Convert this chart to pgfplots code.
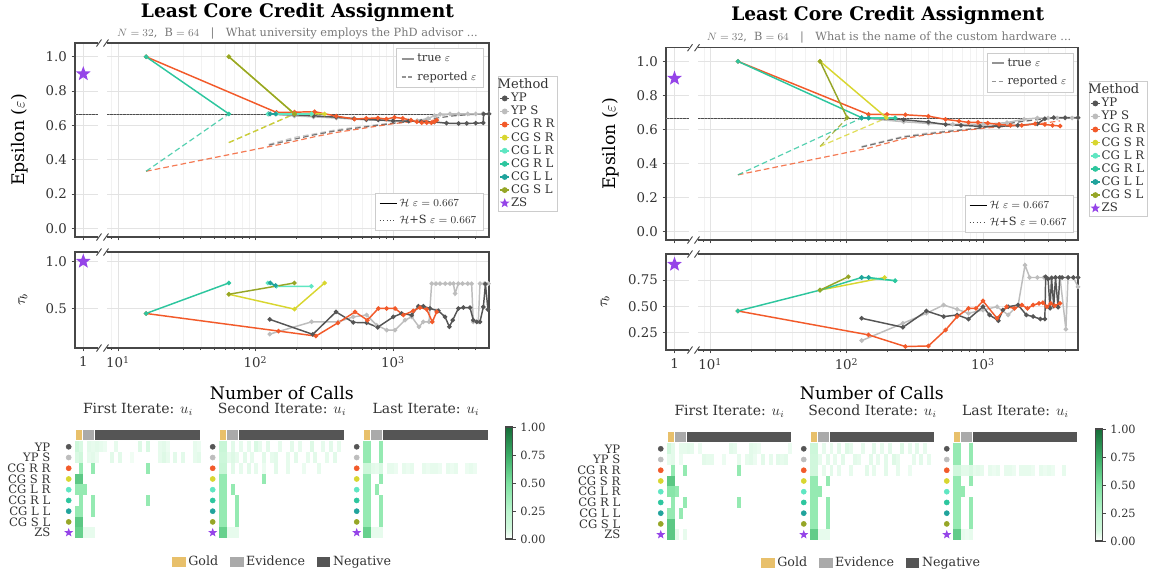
\documentclass[border=0pt]{standalone}
\usepackage{fontspec}
\setmainfont{DejaVu Serif}
\usepackage{pgfplots}
\pgfplotsset{compat=1.18}

\definecolor{cYP}{HTML}{555555}
\definecolor{cYPS}{HTML}{BDBDBD}
\definecolor{cRR}{HTML}{F25A2A}
\definecolor{cSR}{HTML}{D8D630}
\definecolor{cLR}{HTML}{5FE6C2}
\definecolor{cRL}{HTML}{2DC69E}
\definecolor{cLL}{HTML}{20A39C}
\definecolor{cSL}{HTML}{96A627}
\definecolor{cZS}{HTML}{9544E8}
\definecolor{frame}{HTML}{474747}
\definecolor{gridc}{HTML}{E3E3E3}
\definecolor{mgridc}{HTML}{F2F2F2}
\definecolor{tickc}{HTML}{333333}
\definecolor{legframe}{HTML}{CCCCCC}
\definecolor{cGold}{HTML}{E8C06B}
\definecolor{cEvid}{HTML}{AAAAAA}
\definecolor{cNeg}{HTML}{555555}
\definecolor{subc}{HTML}{777777}

\newcommand{\ticklabfont}{\fontsize{10}{12}\selectfont}

\pgfdeclareplotmark{fstar}{%
  \pgfpathmoveto{\pgfpointpolar{90}{\pgfplotmarksize}}%
  \pgfpathlineto{\pgfpointpolar{126}{0.42*\pgfplotmarksize}}%
  \pgfpathlineto{\pgfpointpolar{162}{\pgfplotmarksize}}%
  \pgfpathlineto{\pgfpointpolar{198}{0.42*\pgfplotmarksize}}%
  \pgfpathlineto{\pgfpointpolar{234}{\pgfplotmarksize}}%
  \pgfpathlineto{\pgfpointpolar{270}{0.42*\pgfplotmarksize}}%
  \pgfpathlineto{\pgfpointpolar{306}{\pgfplotmarksize}}%
  \pgfpathlineto{\pgfpointpolar{342}{0.42*\pgfplotmarksize}}%
  \pgfpathlineto{\pgfpointpolar{18}{\pgfplotmarksize}}%
  \pgfpathlineto{\pgfpointpolar{54}{0.42*\pgfplotmarksize}}%
  \pgfpathclose\pgfusepathqfill}
\pgfdeclareplotmark{cell}{\pgfpathrectanglecorners{\pgfqpoint{-1.49pt}{-4.05pt}}{\pgfqpoint{1.49pt}{4.05pt}}\pgfusepathqfill}

\pgfplotsset{
  colormap={hmap}{rgb255(0cm)=(255,255,255); rgb255(1cm)=(208,247,220); rgb255(2.5cm)=(186,245,206); rgb255(5cm)=(124,226,160); rgb255(7.5cm)=(58,172,102); rgb255(10cm)=(22,108,56)},
  bx/.style={scale only axis, anchor=south west,
    axis line style={draw=frame, line width=0.8pt},
    tick align=outside, tick style={draw=frame, line width=0.6pt},
    major tick length=2.6pt, minor tick length=1.6pt,
    ticklabel style={font=\ticklabfont, text=tickc},
    grid style={draw=gridc, line width=0.6pt},
    minor grid style={draw=mgridc, line width=0.4pt},
    xtick pos=left, ytick pos=left,
    /pgf/number format/assume math mode=true},
  smallax/.style={bx, xmin=0.5, xtick={1}, xmajorgrids, ymajorgrids},
  logax/.style={bx, xtick={10,100,1000},
    minor xtick={9,20,30,40,50,60,70,80,90,200,300,400,500,600,700,800,900,2000,3000,4000},
    xmajorgrids, xminorgrids, ymajorgrids, yticklabels={}, ytick style={draw=none}},
  sl/.style={line width=1.1pt, mark=*, mark size=1.1pt, mark options={solid}},
  dl/.style={line width=0.9pt, dash pattern=on 4.2pt off 2.4pt, opacity=0.8},
  hline/.style={black!70, line width=0.6pt},
  hdot/.style={black!45, dotted, line width=0.45pt},
  y1f/.style={yticklabel style={/pgf/number format/fixed, /pgf/number format/fixed zerofill, /pgf/number format/precision=1}},
  y2f/.style={yticklabel style={/pgf/number format/fixed, /pgf/number format/fixed zerofill, /pgf/number format/precision=2}},
  hmbase/.style={scale only axis, anchor=north west, xmin=0, xmax=32, ymin=-0.656, ymax=9.5, y dir=reverse,
    clip=false, colormap name=hmap, point meta min=0, point meta max=1,
    axis line style={draw=none}, xtick=\empty, ytick=\empty, height=81.75pt,
    title style={font=\fontsize{10.5}{12}\selectfont, text=tickc, at={(0.5,1)}, anchor=south, yshift=0.5pt}},
  hmsc/.style={scatter, only marks, mark=cell, point meta=explicit},
  rowlab/.style={ytick={1,2,3,4,5,6,7,8,9}, yticklabels={YP,YP S,CG R R,CG S R,CG L R,CG R L,CG L L,CG S L,ZS},
    major tick length=0pt, yticklabel style={font=\fontsize{8.7}{10}\selectfont, text=tickc, xshift=-15pt}},
  cbar/.style={colorbar, colorbar style={at={(parent axis.north east)}, anchor=north west, xshift=#1, yshift=1.5pt,
    width=5.25pt, height=84pt, scale only axis, ytick={0,0.25,0.5,0.75,1}, xtick=\empty,
    yticklabel style={font=\fontsize{8.5}{9}\selectfont, text=tickc, /pgf/number format/fixed, /pgf/number format/fixed zerofill, /pgf/number format/precision=2, /pgf/number format/assume math mode=true},
    axis line style={draw=frame, line width=0.8pt}, tick style={draw=frame, line width=0.5pt},
    major tick length=2.5pt, tick align=outside, ytick pos=right, yticklabel pos=right}},
  legov/.style={hide axis, scale only axis, width=1pt, height=1pt, xmin=0, xmax=1, ymin=0, ymax=1},
}

\newcommand{\strip}{%
  \addplot[fill=cGold, draw=white, line width=0.8pt] coordinates {(0,-0.656)(2,-0.656)(2,0.407)(0,0.407)(0,-0.656)};
  \addplot[fill=cEvid, draw=white, line width=0.8pt] coordinates {(2,-0.656)(5,-0.656)(5,0.407)(2,0.407)(2,-0.656)};
  \addplot[fill=cNeg, draw=white, line width=0.8pt] coordinates {(5,-0.656)(32,-0.656)(32,0.407)(5,0.407)(5,-0.656)};
}
\newcommand{\rowmarks}{%
  \addplot[only marks, mark=*, mark size=1.9pt, cYP] coordinates {(-1.6,1)};
  \addplot[only marks, mark=*, mark size=1.9pt, cYPS] coordinates {(-1.6,2)};
  \addplot[only marks, mark=*, mark size=1.9pt, cRR] coordinates {(-1.6,3)};
  \addplot[only marks, mark=*, mark size=1.9pt, cSR] coordinates {(-1.6,4)};
  \addplot[only marks, mark=*, mark size=1.9pt, cLR] coordinates {(-1.6,5)};
  \addplot[only marks, mark=*, mark size=1.9pt, cRL] coordinates {(-1.6,6)};
  \addplot[only marks, mark=*, mark size=1.9pt, cLL] coordinates {(-1.6,7)};
  \addplot[only marks, mark=*, mark size=1.9pt, cSL] coordinates {(-1.6,8)};
  \addplot[only marks, mark=fstar, mark size=3.5pt, cZS] coordinates {(-1.6,9)};
}
\newcommand{\methodlegend}{%
  \addlegendimage{empty legend}\addlegendentry{\hspace{-10pt}\fontsize{9.8}{10}\selectfont Method}
  \addlegendimage{cYP, line width=1.1pt, mark=*, mark size=1.6pt}\addlegendentry{YP}
  \addlegendimage{cYPS, line width=1.1pt, mark=*, mark size=1.6pt}\addlegendentry{YP S}
  \addlegendimage{cRR, line width=1.1pt, mark=*, mark size=1.6pt}\addlegendentry{CG R R}
  \addlegendimage{cSR, line width=1.1pt, mark=*, mark size=1.6pt}\addlegendentry{CG S R}
  \addlegendimage{cLR, line width=1.1pt, mark=*, mark size=1.6pt}\addlegendentry{CG L R}
  \addlegendimage{cRL, line width=1.1pt, mark=*, mark size=1.6pt}\addlegendentry{CG R L}
  \addlegendimage{cLL, line width=1.1pt, mark=*, mark size=1.6pt}\addlegendentry{CG L L}
  \addlegendimage{cSL, line width=1.1pt, mark=*, mark size=1.6pt}\addlegendentry{CG S L}
  \addlegendimage{only marks, mark=fstar, mark size=3.8pt, cZS}\addlegendentry{ZS}
}
\pgfplotsset{
  methodleg/.style={legov, legend cell align=left,
    legend style={at={(0,1)}, anchor=north west, draw=legframe, fill=white, text=tickc,
      font=\fontsize{8.8}{9.5}\selectfont, inner sep=1pt, nodes={inner sep=0.9pt}, row sep=0pt},
    legend image code/.code={\draw[mark repeat=2, mark phase=2, ##1] plot coordinates {(0pt,0pt)(3.3pt,0pt)(6.6pt,0pt)};}},
  trueleg/.style={legov, legend cell align=left,
    legend style={at={(1,1)}, anchor=north east, draw=legframe, fill=white, text=tickc,
      font=\fontsize{8.5}{9.5}\selectfont, row sep=2pt},
    legend image code/.code={\draw[##1] (0pt,0pt) -- (9pt,0pt);}},
  hleg/.style={legov, legend cell align=left,
    legend style={at={(1,0)}, anchor=south east, draw=legframe, fill=white, text=tickc,
      font=\fontsize{8.5}{9.5}\selectfont, row sep=1pt},
    legend image code/.code={\draw[##1] (0pt,0pt) -- (12.75pt,0pt);}},
  gleg/.style={legov, legend columns=3,
    legend style={at={(0.5,0.5)}, anchor=center, draw=none, fill=none, text=tickc,
      font=\fontsize{9.5}{11}\selectfont, /tikz/every even column/.append style={column sep=7pt}},
    legend image code/.code={\fill[##1] (0pt,-3.4pt) rectangle (10pt,3.4pt);}},
}
\newcommand{\goldlegend}{%
  \addlegendimage{fill=cGold, draw=none}\addlegendentry{Gold}
  \addlegendimage{fill=cEvid, draw=none}\addlegendentry{Evidence}
  \addlegendimage{fill=cNeg, draw=none}\addlegendentry{Negative}
}

\begin{document}
\begin{tikzpicture}
\path[use as bounding box] (0pt,0pt) rectangle (867pt,-432pt);

% ================= LEFT PANEL =================
\begin{axis}[smallax, at={(56.25pt,-177.75pt)}, width=18pt, height=145.5pt, xmax=1.946, ymin=-0.05, ymax=1.08,
  xticklabels={}, ytick={0,0.2,0.4,0.6,0.8,1.0}, y1f,
  ylabel={Epsilon ($\varepsilon$)}, ylabel style={at={(axis description cs:-2.31,0.5)}, anchor=center, font=\fontsize{13}{15}\selectfont}]
\addplot[hline] coordinates {(0.5,0.667)(1.946,0.667)};
\addplot[hdot] coordinates {(0.5,0.667)(1.946,0.667)};
\addplot[only marks, mark=fstar, mark size=5.8pt, cZS] coordinates {(1,0.9)};
\end{axis}

\begin{axis}[xmode=log, log basis x=10, logax, at={(79.5pt,-177.75pt)}, width=287.25pt, height=145.5pt, xmin=8.18, xmax=4990, ymin=-0.05, ymax=1.08,
  ytick={0,0.2,0.4,0.6,0.8,1.0}, xticklabels={}]
\addplot[hline] coordinates {(8.18,0.667)(4990,0.667)};
\addplot[hdot] coordinates {(8.18,0.667)(4990,0.667)};
\addplot[dl, cYPS] coordinates {(125,0.49)(192,0.53)(264,0.55)(387,0.575)(640,0.597)(1000,0.615)(1500,0.63)(2000,0.652)(2500,0.662)(4990,0.667)};
\addplot[dl, cYP] coordinates {(125,0.485)(192,0.52)(264,0.544)(387,0.569)(640,0.592)(1000,0.612)(1500,0.627)(2000,0.641)(2700,0.655)(3440,0.662)(4990,0.667)};
\addplot[dl, cRR] coordinates {(16,0.333)(142,0.485)(269,0.534)(387,0.559)(640,0.586)(1000,0.61)(1490,0.625)(2080,0.631)};
\addplot[dl, cRL] coordinates {(16,0.333)(64,0.667)};
\addplot[dl, cSL] coordinates {(64,0.5)(192,0.667)};
\addplot[dl, cSR] coordinates {(64,0.5)(192,0.667)};
\addplot[sl, cYPS] coordinates {(125,0.667)(192,0.655)(264,0.65)(387,0.643)(640,0.632)(1000,0.627)(1500,0.628)(1800,0.64)(2000,0.657)(2200,0.665)(2600,0.667)(3000,0.667)(3500,0.667)(4000,0.667)(4500,0.667)(4990,0.667)};
\addplot[sl, cYP] coordinates {(125,0.667)(192,0.662)(264,0.656)(387,0.648)(520,0.64)(640,0.635)(780,0.632)(1000,0.627)(1300,0.625)(1600,0.623)(2000,0.62)(2450,0.613)(3000,0.611)(3440,0.612)(4000,0.613)(4530,0.615)(4560,0.667)(4990,0.667)};
\addplot[sl, cRR] coordinates {(16,1.0)(142,0.676)(192,0.677)(269,0.68)(387,0.654)(525,0.637)(640,0.641)(777,0.643)(894,0.637)(1024,0.647)(1175,0.641)(1350,0.631)(1490,0.621)(1620,0.616)(1760,0.616)(1900,0.616)(2000,0.621)(2080,0.631)};
\addplot[sl, cSR] coordinates {(64,1.0)(192,0.667)(255,0.667)(318,0.667)};
\addplot[sl, cLR] coordinates {(123,0.667)(142,0.667)(255,0.667)};
\addplot[sl, cRL] coordinates {(16,1.0)(64,0.667)};
\addplot[sl, cLL] coordinates {(128,0.667)(140,0.667)};
\addplot[sl, cSL] coordinates {(64,1.0)(192,0.667)};
\end{axis}

\begin{axis}[smallax, at={(56.25pt,-261pt)}, width=18pt, height=72pt, xmax=1.946, ymin=0.08, ymax=1.10,
  xticklabels={1}, ytick={0.5,1.0}, y1f,
  ylabel={$\tau_b$}, ylabel style={at={(axis description cs:-2.17,0.5)}, anchor=center, font=\fontsize{11}{13}\selectfont}]
\addplot[only marks, mark=fstar, mark size=5.8pt, cZS] coordinates {(1,1.0)};
\end{axis}

\begin{axis}[xmode=log, log basis x=10, logax, at={(79.5pt,-261pt)}, width=287.25pt, height=72pt, xmin=8.18, xmax=4990, ymin=0.08, ymax=1.10,
  ytick={0.5,1.0}, xticklabel={10\textsuperscript{\pgfmathparse{int(round(\tick))}\pgfmathresult}},
  xlabel={Number of Calls}, xlabel style={at={(axis description cs:0.459,-0.47)}, anchor=center, font=\fontsize{13}{15}\selectfont}]
\addplot[sl, cYPS] coordinates {(127,0.228)(256,0.358)(400,0.358)(514,0.411)(643,0.43)(760,0.323)(900,0.27)(1035,0.27)(1223,0.376)(1367,0.411)(1545,0.305)(1661,0.358)(1828,0.358)(1910,0.764)(2050,0.764)(2197,0.764)(2400,0.764)(2600,0.764)(2750,0.764)(2827,0.659)(2985,0.764)(3200,0.764)(3500,0.764)(3730,0.764)(3837,0.358)(4170,0.358)(4290,0.764)(4600,0.764)(4940,0.764)};
\addplot[sl, cYP] coordinates {(127,0.384)(261,0.225)(385,0.464)(514,0.352)(643,0.348)(774,0.3)(1005,0.411)(1155,0.447)(1367,0.43)(1529,0.524)(1661,0.524)(1857,0.5)(2137,0.475)(2390,0.411)(2570,0.305)(2716,0.376)(2985,0.5)(3245,0.51)(3630,0.51)(3837,0.376)(4060,0.358)(4290,0.358)(4540,0.517)(4700,0.76)(4900,0.49)};
\addplot[sl, cRR] coordinates {(16,0.447)(147,0.26)(275,0.207)(398,0.348)(530,0.464)(651,0.376)(782,0.5)(900,0.5)(1035,0.5)(1189,0.43)(1405,0.475)(1572,0.51)(1758,0.49)(1931,0.358)(2079,0.464)};
\addplot[sl, cSR] coordinates {(64,0.651)(192,0.493)(318,0.771)};
\addplot[sl, cLR] coordinates {(123,0.771)(142,0.736)(255,0.736)};
\addplot[sl, cRL] coordinates {(16,0.447)(64,0.771)};
\addplot[sl, cLL] coordinates {(128,0.771)(140,0.745)};
\addplot[sl, cSL] coordinates {(64,0.651)(192,0.771)};
\end{axis}

\begin{axis}[trueleg, at={(362.475pt,-36.225pt)}, anchor=north east]
\addlegendimage{color=gray!85, line width=1.5pt}\addlegendentry{true $\varepsilon$}
\addlegendimage{color=gray!85, line width=1.2pt, dash pattern=on 3pt off 2pt}\addlegendentry{reported $\varepsilon$}
\end{axis}
\begin{axis}[hleg, at={(362.475pt,-173.025pt)}, anchor=south east]
\addlegendimage{black, line width=0.6pt}\addlegendentry{$\mathcal{H}\ \varepsilon=0.667$}
\addlegendimage{black!70, dotted, line width=0.6pt}\addlegendentry{$\mathcal{H}$+S $\varepsilon=0.667$}
\end{axis}
\begin{axis}[methodleg, at={(373.5pt,-57pt)}, anchor=north west]
\methodlegend
\end{axis}

% heatmaps left
\begin{axis}[hmbase, rowlab, at={(56.25pt,-321.75pt)}, width=94.5pt, title={First Iterate: $u_i$}]
\strip
\rowmarks
\addplot[hmsc] coordinates {
(0.5,1)[0.12] (1.5,1)[0.08] (3.5,1)[0.06] (4.5,1)[0.05] (5.5,1)[0.06] (6.5,1)[0.05] (7.5,1)[0.04] (10.5,1)[0.05] (16.5,1)[0.07] (18.5,1)[0.08] (21.5,1)[0.05] (22.5,1)[0.06] (23.5,1)[0.04] (30.5,1)[0.05] (31.5,1)[0.04]
(0.5,2)[0.08] (1.5,2)[0.1] (3.5,2)[0.05] (4.5,2)[0.06] (5.5,2)[0.04] (9.5,2)[0.06] (11.5,2)[0.06] (14.5,2)[0.03] (21.5,2)[0.05] (22.5,2)[0.07] (23.5,2)[0.05] (25.5,2)[0.06] (27.5,2)[0.06] (30.5,2)[0.05] (31.5,2)[0.06]
(1.5,3)[0.4] (4.5,3)[0.4] (18.5,3)[0.4]
(0.5,4)[0.62] (1.5,4)[0.62]
(0.5,5)[0.4] (1.5,5)[0.4] (2.5,5)[0.4]
(1.5,6)[0.4] (4.5,6)[0.4] (18.5,6)[0.4]
(0.5,7)[0.4] (1.5,7)[0.4] (4.5,7)[0.4]
(0.5,8)[0.62] (1.5,8)[0.62]
(0.5,9)[0.58] (1.5,9)[0.58] (2.5,9)[0.05] (3.5,9)[0.05] (4.5,9)[0.05]};
\end{axis}

\begin{axis}[hmbase, at={(164.25pt,-321.75pt)}, width=94.5pt, title={Second Iterate: $u_i$}]
\strip
\rowmarks
\addplot[hmsc] coordinates {
(0.5,1)[0.15] (1.5,1)[0.15] (3.5,1)[0.06] (5.5,1)[0.05] (7.5,1)[0.05] (9.5,1)[0.08] (10.5,1)[0.05] (12.5,1)[0.06] (15.5,1)[0.05] (18.5,1)[0.06] (20.5,1)[0.05] (23.5,1)[0.07] (26.5,1)[0.05] (28.5,1)[0.06] (30.5,1)[0.05]
(0.5,2)[0.12] (1.5,2)[0.12] (2.5,2)[0.05] (3.5,2)[0.07] (4.5,2)[0.05] (6.5,2)[0.06] (8.5,2)[0.05] (11.5,2)[0.06] (13.5,2)[0.05] (14.5,2)[0.06] (17.5,2)[0.05] (19.5,2)[0.06] (22.5,2)[0.05] (24.5,2)[0.06] (27.5,2)[0.05] (29.5,2)[0.06]
(0.5,3)[0.15] (1.5,3)[0.15] (3.5,3)[0.06] (5.5,3)[0.05] (7.5,3)[0.06] (9.5,3)[0.05] (11.5,3)[0.04] (14.5,3)[0.06] (17.5,3)[0.05] (21.5,3)[0.04] (25.5,3)[0.05]
(0.5,4)[0.4] (1.5,4)[0.4] (11.5,4)[0.4]
(0.5,5)[0.4] (1.5,5)[0.4] (3.5,5)[0.4]
(0.5,6)[0.4] (1.5,6)[0.4] (4.5,6)[0.4]
(0.5,7)[0.4] (1.5,7)[0.4] (4.5,7)[0.4]
(0.5,8)[0.4] (1.5,8)[0.4] (4.5,8)[0.4]
(0.5,9)[0.58] (1.5,9)[0.58] (2.5,9)[0.05] (3.5,9)[0.05] (4.5,9)[0.05]};
\end{axis}

\begin{axis}[hmbase, cbar=3.75pt, at={(272.25pt,-321.75pt)}, width=94.5pt, title={Last Iterate: $u_i$}]
\strip
\rowmarks
\addplot[hmsc] coordinates {
(0.5,1)[0.4] (1.5,1)[0.4] (4.5,1)[0.4]
(0.5,2)[0.4] (1.5,2)[0.4] (4.5,2)[0.4]
(0.5,3)[0.12] (1.5,3)[0.12] (2.5,3)[0.06] (3.5,3)[0.05] (4.5,3)[0.08] (6.5,3)[0.05] (7.5,3)[0.05] (8.5,3)[0.04] (10.5,3)[0.05] (11.5,3)[0.04] (12.5,3)[0.05] (15.5,3)[0.05] (16.5,3)[0.04] (17.5,3)[0.05] (18.5,3)[0.05] (19.5,3)[0.04] (21.5,3)[0.05] (22.5,3)[0.04] (23.5,3)[0.05] (26.5,3)[0.04] (27.5,3)[0.05] (28.5,3)[0.04]
(0.5,4)[0.4] (1.5,4)[0.4] (4.5,4)[0.4]
(0.5,5)[0.4] (1.5,5)[0.4] (3.5,5)[0.4]
(0.5,6)[0.4] (1.5,6)[0.4] (4.5,6)[0.4]
(0.5,7)[0.4] (1.5,7)[0.4] (4.5,7)[0.4]
(0.5,8)[0.4] (1.5,8)[0.4] (4.5,8)[0.4]
(0.5,9)[0.58] (1.5,9)[0.58] (2.5,9)[0.05] (3.5,9)[0.05] (4.5,9)[0.05]};
\end{axis}

\begin{axis}[gleg, at={(212.25pt,-421.5pt)}, anchor=center]
\goldlegend
\end{axis}

% ================= RIGHT PANEL =================
\begin{axis}[smallax, at={(499.5pt,-180pt)}, width=18pt, height=144.2pt, xmax=1.91, ymin=-0.05, ymax=1.08,
  xticklabels={}, ytick={0,0.2,0.4,0.6,0.8,1.0}, y1f,
  ylabel={Epsilon ($\varepsilon$)}, ylabel style={at={(axis description cs:-2.31,0.5)}, anchor=center, font=\fontsize{13}{15}\selectfont}]
\addplot[hline] coordinates {(0.5,0.667)(1.91,0.667)};
\addplot[hdot] coordinates {(0.5,0.667)(1.91,0.667)};
\addplot[only marks, mark=fstar, mark size=5.8pt, cZS] coordinates {(1,0.9)};
\end{axis}

\begin{axis}[xmode=log, log basis x=10, logax, at={(522.75pt,-180pt)}, width=285.75pt, height=144.2pt, xmin=8.02, xmax=4970, ymin=-0.05, ymax=1.08,
  ytick={0,0.2,0.4,0.6,0.8,1.0}, xticklabels={}]
\addplot[hline] coordinates {(8.02,0.667)(4970,0.667)};
\addplot[hdot] coordinates {(8.02,0.667)(4970,0.667)};
\addplot[dl, cYPS] coordinates {(129,0.5)(262,0.56)(400,0.58)(1000,0.61)(2000,0.65)(3000,0.665)(4970,0.667)};
\addplot[dl, cYP] coordinates {(129,0.496)(262,0.555)(500,0.584)(950,0.608)(1800,0.643)(2840,0.663)(4970,0.669)};
\addplot[dl, cRR] coordinates {(16,0.333)(145,0.49)(270,0.548)(398,0.57)(667,0.59)(1000,0.607)(1600,0.62)(2400,0.63)(3670,0.65)};
\addplot[dl, cRL] coordinates {(16,0.333)(129,0.667)};
\addplot[dl, cSL] coordinates {(64,0.5)(101,0.667)};
\addplot[dl, cSR] coordinates {(64,0.5)(196,0.667)};
\addplot[sl, cYPS] coordinates {(129,0.667)(262,0.645)(400,0.635)(600,0.63)(1000,0.63)(1500,0.64)(2000,0.66)(2500,0.667)(3000,0.667)(3500,0.667)(4000,0.667)(4500,0.667)(4970,0.667)};
\addplot[sl, cYP] coordinates {(129,0.669)(262,0.657)(398,0.643)(532,0.629)(690,0.624)(950,0.618)(1310,0.618)(1800,0.624)(2500,0.633)(2840,0.663)(3300,0.669)(4000,0.669)(4970,0.669)};
\addplot[sl, cRR] coordinates {(16,1.0)(145,0.688)(198,0.688)(270,0.686)(398,0.678)(532,0.659)(667,0.649)(783,0.641)(920,0.641)(1082,0.637)(1310,0.629)(1590,0.624)(1925,0.624)(2413,0.633)(2837,0.629)(3228,0.624)(3670,0.62)};
\addplot[sl, cSR] coordinates {(64,1.0)(196,0.669)};
\addplot[sl, cLR] coordinates {(129,0.667)(227,0.667)};
\addplot[sl, cRL] coordinates {(16,1.0)(129,0.669)(145,0.667)(227,0.667)};
\addplot[sl, cLL] coordinates {(129,0.667)(145,0.667)};
\addplot[sl, cSL] coordinates {(64,1.0)(101,0.669)};
\end{axis}

\begin{axis}[smallax, at={(499.5pt,-262.5pt)}, width=18pt, height=72pt, xmax=1.91, ymin=0.08, ymax=1.0,
  xticklabels={1}, ytick={0.25,0.5,0.75}, y2f,
  ylabel={$\tau_b$}, ylabel style={at={(axis description cs:-2.54,0.5)}, anchor=center, font=\fontsize{11}{13}\selectfont}]
\addplot[only marks, mark=fstar, mark size=5.8pt, cZS] coordinates {(1,0.9)};
\end{axis}

\begin{axis}[xmode=log, log basis x=10, logax, at={(522.75pt,-262.5pt)}, width=285.75pt, height=72pt, xmin=8.02, xmax=4970, ymin=0.08, ymax=1.0,
  ytick={0.25,0.5,0.75}, xticklabel={10\textsuperscript{\pgfmathparse{int(round(\tick))}\pgfmathresult}},
  xlabel={Number of Calls}, xlabel style={at={(axis description cs:0.459,-0.45)}, anchor=center, font=\fontsize{13}{15}\selectfont}]
\addplot[sl, cYPS] coordinates {(129,0.17)(259,0.336)(385,0.432)(515,0.511)(646,0.47)(783,0.432)(1000,0.463)(1268,0.495)(1530,0.416)(1810,0.511)(2032,0.893)(2200,0.775)(2500,0.775)(2800,0.775)(3180,0.775)(3670,0.775)(4050,0.279)(4200,0.775)(4600,0.775)(4970,0.686)};
\addplot[sl, cYP] coordinates {(129,0.384)(259,0.298)(385,0.454)(515,0.4)(646,0.416)(783,0.377)(1000,0.495)(1117,0.416)(1295,0.361)(1400,0.463)(1530,0.495)(1810,0.511)(2080,0.416)(2330,0.4)(2630,0.377)(2840,0.377)(2880,0.782)(3000,0.76)(3100,0.48)(3180,0.77)(3300,0.5)(3400,0.775)(3550,0.49)(3650,0.775)(3800,0.775)(4200,0.775)(4600,0.775)(4970,0.775)};
\addplot[sl, cRR] coordinates {(16,0.454)(145,0.225)(270,0.113)(398,0.119)(532,0.272)(646,0.4)(783,0.479)(890,0.479)(1000,0.55)(1268,0.384)(1490,0.495)(1700,0.479)(1925,0.511)(2120,0.479)(2330,0.511)(2570,0.527)(2750,0.533)(2940,0.495)(3140,0.527)(3350,0.505)(3670,0.527)};
\addplot[sl, cSR] coordinates {(64,0.654)(190,0.775)};
\addplot[sl, cLR] coordinates {(129,0.775)(227,0.744)};
\addplot[sl, cRL] coordinates {(16,0.454)(64,0.654)(129,0.775)(145,0.775)(227,0.744)};
\addplot[sl, cLL] coordinates {(129,0.775)(145,0.775)};
\addplot[sl, cSL] coordinates {(64,0.654)(103,0.782)};
\end{axis}

\begin{axis}[trueleg, at={(805.05pt,-39.525pt)}, anchor=north east]
\addlegendimage{color=gray!85, line width=1.5pt}\addlegendentry{true $\varepsilon$}
\addlegendimage{color=gray!85, line width=1.2pt, dash pattern=on 3pt off 2pt}\addlegendentry{reported $\varepsilon$}
\end{axis}
\begin{axis}[hleg, at={(805.05pt,-174.75pt)}, anchor=south east]
\addlegendimage{black, line width=0.6pt}\addlegendentry{$\mathcal{H}\ \varepsilon=0.667$}
\addlegendimage{black!70, dotted, line width=0.6pt}\addlegendentry{$\mathcal{H}$+S $\varepsilon=0.667$}
\end{axis}
\begin{axis}[methodleg, at={(816.45pt,-60.75pt)}, anchor=north west]
\methodlegend
\end{axis}

\begin{axis}[hmbase, rowlab, at={(500.25pt,-323.25pt)}, width=93.75pt, title={First Iterate: $u_i$}, yticklabel style={xshift=-16.5pt}]
\strip
\rowmarks
\addplot[hmsc] coordinates {
(0.5,1)[0.1] (1.5,1)[0.06] (3.5,1)[0.05] (4.5,1)[0.05] (5.5,1)[0.06] (6.5,1)[0.05] (8.5,1)[0.04] (16.5,1)[0.06] (17.5,1)[0.05] (21.5,1)[0.06] (22.5,1)[0.05] (23.5,1)[0.04] (31.5,1)[0.04]
(0.5,2)[0.05] (1.5,2)[0.06] (3.5,2)[0.04] (9.5,2)[0.06] (10.5,2)[0.05] (11.5,2)[0.05] (14.5,2)[0.04] (18.5,2)[0.05] (20.5,2)[0.05] (21.5,2)[0.06] (22.5,2)[0.04] (24.5,2)[0.06] (26.5,2)[0.05] (28.5,2)[0.06] (29.5,2)[0.05] (30.5,2)[0.06]
(1.5,3)[0.4] (4.5,3)[0.4] (18.5,3)[0.4]
(0.5,4)[0.62] (1.5,4)[0.62]
(0.5,5)[0.45] (1.5,5)[0.45] (2.5,5)[0.4]
(1.5,6)[0.4] (4.5,6)[0.4] (18.5,6)[0.4]
(0.5,7)[0.4] (1.5,7)[0.4] (3.5,7)[0.4]
(0.5,8)[0.62] (1.5,8)[0.62]
(0.5,9)[0.62] (1.5,9)[0.62] (2.5,9)[0.05] (4.5,9)[0.05]};
\end{axis}

\begin{axis}[hmbase, at={(607.5pt,-323.25pt)}, width=93.75pt, title={Second Iterate: $u_i$}]
\strip
\rowmarks
\addplot[hmsc] coordinates {
(0.5,1)[0.12] (1.5,1)[0.12] (3.5,1)[0.05] (5.5,1)[0.05] (7.5,1)[0.06] (9.5,1)[0.07] (10.5,1)[0.05] (13.5,1)[0.05] (16.5,1)[0.06] (18.5,1)[0.05] (20.5,1)[0.06] (23.5,1)[0.07] (25.5,1)[0.05] (27.5,1)[0.06] (29.5,1)[0.05]
(0.5,2)[0.1] (1.5,2)[0.1] (2.5,2)[0.05] (4.5,2)[0.06] (6.5,2)[0.05] (8.5,2)[0.06] (11.5,2)[0.06] (12.5,2)[0.05] (15.5,2)[0.06] (17.5,2)[0.05] (19.5,2)[0.06] (21.5,2)[0.07] (22.5,2)[0.05] (26.5,2)[0.05] (28.5,2)[0.06] (30.5,2)[0.05]
(0.5,3)[0.1] (1.5,3)[0.1] (3.5,3)[0.05] (5.5,3)[0.06] (7.5,3)[0.05] (10.5,3)[0.05] (14.5,3)[0.06] (16.5,3)[0.05] (19.5,3)[0.06] (22.5,3)[0.05] (25.5,3)[0.04]
(0.5,4)[0.4] (1.5,4)[0.4] (4.5,4)[0.4]
(0.5,5)[0.4] (1.5,5)[0.4] (2.5,5)[0.4]
(0.5,6)[0.4] (1.5,6)[0.4] (4.5,6)[0.4]
(0.5,7)[0.4] (1.5,7)[0.4] (4.5,7)[0.4]
(0.5,8)[0.4] (1.5,8)[0.4] (4.5,8)[0.4]
(0.5,9)[0.6] (1.5,9)[0.6] (2.5,9)[0.05] (3.5,9)[0.05] (4.5,9)[0.05]};
\end{axis}

\begin{axis}[hmbase, cbar=4.5pt, at={(714.75pt,-323.25pt)}, width=93.75pt, title={Last Iterate: $u_i$}]
\strip
\rowmarks
\addplot[hmsc] coordinates {
(0.5,1)[0.4] (1.5,1)[0.4] (4.5,1)[0.4]
(0.5,2)[0.4] (1.5,2)[0.4] (4.5,2)[0.4]
(0.5,3)[0.1] (1.5,3)[0.1] (2.5,3)[0.06] (3.5,3)[0.06] (4.5,3)[0.08] (5.5,3)[0.05] (6.5,3)[0.06] (7.5,3)[0.05] (9.5,3)[0.05] (10.5,3)[0.04] (11.5,3)[0.05] (13.5,3)[0.05] (14.5,3)[0.05] (15.5,3)[0.04] (17.5,3)[0.05] (18.5,3)[0.05] (19.5,3)[0.05] (20.5,3)[0.04] (22.5,3)[0.05] (23.5,3)[0.04] (24.5,3)[0.05] (25.5,3)[0.04] (28.5,3)[0.05]
(0.5,4)[0.4] (1.5,4)[0.4] (4.5,4)[0.4]
(0.5,5)[0.4] (1.5,5)[0.4] (2.5,5)[0.4]
(0.5,6)[0.4] (1.5,6)[0.4] (4.5,6)[0.4]
(0.5,7)[0.4] (1.5,7)[0.4] (4.5,7)[0.4]
(0.5,8)[0.4] (1.5,8)[0.4] (4.5,8)[0.4]
(0.5,9)[0.6] (1.5,9)[0.6] (2.5,9)[0.05] (3.5,9)[0.04] (4.5,9)[0.05]};
\end{axis}

\begin{axis}[gleg, at={(654pt,-422.25pt)}, anchor=center]
\goldlegend
\end{axis}

% ================= titles and axis breaks (pixel units) =================
\begin{scope}[x=0.75pt, y=-0.75pt]
\node[font=\bfseries\fontsize{14}{16}\selectfont] at (297.5,12.7) {Least Core Credit Assignment};
\node[font=\fontsize{8.5}{10}\selectfont, text=subc] at (297.5,33.3) {$N=32$,\ \ $\mathrm{B}=64$\quad|\quad What university employs the PhD advisor ...};
\node[font=\bfseries\fontsize{14}{16}\selectfont] at (887.8,15) {Least Core Credit Assignment};
\node[font=\fontsize{8.5}{10}\selectfont, text=subc] at (889,37.3) {$N=32$,\ \ $\mathrm{B}=64$\quad|\quad What is the name of the custom hardware ...};
\fill[white] (98.3,40) rectangle (106.7,240);
\fill[white] (98.3,249) rectangle (106.7,351);
\fill[white] (689.3,45) rectangle (697.7,243);
\fill[white] (689.3,251) rectangle (697.7,353);
\foreach \bx in {99,106} {
  \foreach \by in {43,237,252,348} {\draw[frame, line width=0.7pt] (\bx-2.5,\by+3.5) -- (\bx+2.5,\by-3.5);}
}
\foreach \bx in {690,697} {
  \foreach \by in {47.7,240,254,350} {\draw[frame, line width=0.7pt] (\bx-2.5,\by+3.5) -- (\bx+2.5,\by-3.5);}
}
\end{scope}
\end{tikzpicture}
\end{document}
